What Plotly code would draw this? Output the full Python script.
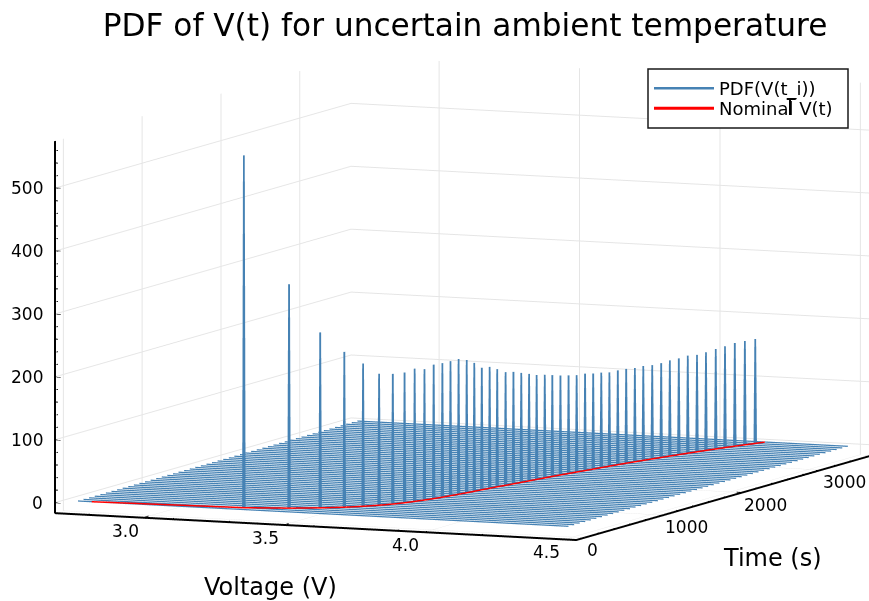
import plotly.graph_objects as go

title = "PDF of V(t) for uncertain ambient temperature"
row_dt = 70.9
n_rows = 51
v_min, v_max = 2.738, 4.485
spike_v = [3.309,3.450,3.541,3.607,3.654,3.691,3.720,3.742,3.758,3.773,3.786,3.797,3.806,3.815,3.824,3.831,
           3.838,3.846,3.853,3.863,3.871,3.879,3.887,3.894,3.903,3.910,3.919,3.928,3.937,3.947,3.956,3.965,
           3.974,3.984,3.994,4.005,4.015,4.027,4.039,4.050,4.062,4.074,4.087,4.099,4.114,4.127,4.142,4.158,4.175]
spike_pdf = [560,356,279,247,227,209,207,207,211,208,213,213,214,215,211,204,
             194,193,187,180,178,174,170,166,164,161,158,156,154,154,152,151,
             149,150,150,149,150,149,150,152,153,155,154,156,159,161,164,165,166]
nominal_v = [2.787] + spike_v + [4.189]
half_width = 0.003

x_range = [2.686, 4.5425]
y_range = [-106, 3650]
z_range = [-16.7, 574.7]
x_ticks = [3.0, 3.5, 4.0, 4.5]
x_tick_text = ["3.0", "3.5", "4.0", "4.5"]
y_ticks = [0, 1000, 2000, 3000]
z_ticks = [0, 100, 200, 300, 400, 500]

times = [row_dt * i for i in range(n_rows)]

row_x, row_y, row_z = [], [], []
spike_x, spike_y, spike_z = [], [], []
for i, t in enumerate(times):
    row_x += [v_min, v_max, None]
    row_y += [t, t, None]
    row_z += [0, 0, None]
    if 1 <= i <= len(spike_v):
        v, p = spike_v[i - 1], spike_pdf[i - 1]
        spike_x += [v - half_width, v, v + half_width, None]
        spike_y += [t, t, t, None]
        spike_z += [0, p, 0, None]

W, H = 869, 601
def px(x): return x / W
def py(y): return 1 - y / H

# axis tick marks (major + minor), laid along the floor / wall like the original
tx, ty, tz = [], [], []
def seg(x0, y0, z0, x1, y1, z1):
    tx.extend([x0, x1, None]); ty.extend([y0, y1, None]); tz.extend([z0, z1, None])
for k in range(0, 16):
    v = 2.8 + 0.1 * k
    seg(v, y_range[0], z_range[0], v, y_range[0] + (70 if abs(v * 2 - round(v * 2)) < 1e-6 else 35), z_range[0])
for k in range(0, 19):
    t = 200 * k
    seg(x_range[1], t, z_range[0], x_range[1] - (0.02 if k % 5 == 0 else 0.01), t, z_range[0])
for k in range(0, 29):
    z = 20 * k
    seg(x_range[0], y_range[0], z, x_range[0] + (0.02 if k % 5 == 0 else 0.01), y_range[0], z)

fig = go.Figure()
fig.add_trace(go.Scatter3d(x=row_x, y=row_y, z=row_z, mode="lines", name="PDF(V(t_i))", legend="legend",
                           line=dict(color="#4682b4", width=2.5), connectgaps=False))
fig.add_trace(go.Scatter3d(x=spike_x, y=spike_y, z=spike_z, mode="lines", showlegend=False,
                           line=dict(color="#4682b4", width=3.5), connectgaps=False))
# small nudge along the line of sight so the red curve stays on top of the rows (screen position unchanged)
nudge_v, nudge_t, nudge_z = 0.0281, -100, 4.2
fig.add_trace(go.Scatter3d(x=[v + nudge_v for v in nominal_v], y=[t + nudge_t for t in times],
                           z=[nudge_z] * len(times), mode="lines", name="Nominal V(t)", legend="legend2",
                           line=dict(color="#ff0000", width=3)))
fig.add_trace(go.Scatter3d(x=tx, y=ty, z=tz, mode="lines", showlegend=False, hoverinfo="skip",
                           line=dict(color="black", width=2)))

axis = dict(showbackground=False, showgrid=True, gridcolor="rgba(0,0,0,0.1)", gridwidth=2,
            zeroline=False, showline=True, linecolor="black", linewidth=4,
            ticks="", showticklabels=False, title=dict(text=""), showspikes=False)

tick_font = dict(family="DejaVu Sans", size=17, color="black")
labels = []
for v, s in zip(x_ticks, x_tick_text):
    labels.append(dict(x=v, y=y_range[0], z=z_range[0], text=s, showarrow=False, xanchor="center", yanchor="middle",
                       xshift=-18, yshift=-13, font=tick_font))
for t in y_ticks:
    labels.append(dict(x=x_range[1], y=t, z=z_range[0], text=str(t), showarrow=False, xanchor="left", yanchor="middle",
                       xshift=0, yshift=-12, font=tick_font))
for z in z_ticks:
    labels.append(dict(x=x_range[0], y=y_range[0], z=z, text=str(z), showarrow=False, xanchor="right", yanchor="middle",
                       xshift=-10, yshift=0, font=tick_font))

legend_common = dict(xanchor="left", yanchor="top", bgcolor="rgba(0,0,0,0)", borderwidth=0,
                     font=dict(family="DejaVu Sans", size=18), itemwidth=60)

fig.update_layout(
    width=W, height=H, paper_bgcolor="white", margin=dict(l=0, r=0, t=0, b=0),
    font=dict(family="DejaVu Sans", color="black"),
    title=dict(text=title, x=px(465), y=py(25), xanchor="center", yanchor="middle",
               font=dict(family="DejaVu Sans", size=31.2)),
    legend=dict(legend_common, x=px(649), y=py(70)),
    legend2=dict(legend_common, x=px(649), y=py(90)),
    shapes=[
        dict(type="rect", xref="paper", yref="paper", x0=px(648), x1=px(848), y0=py(69), y1=py(128),
             fillcolor="white", line=dict(color="#1a1a1a", width=1.5), layer="above"),
        dict(type="line", xref="paper", yref="paper", x0=px(786.7), x1=px(795.7), y0=py(99), y1=py(99),
             line=dict(color="black", width=2), layer="above"),
        dict(type="line", xref="paper", yref="paper", x0=px(790), x1=px(790), y0=py(99), y1=py(115),
             line=dict(color="black", width=2), layer="above"),
    ],
    scene=dict(
        domain=dict(x=[0, 1], y=[0, 1]),
        aspectmode="manual", aspectratio=dict(x=1.8845, y=2.521, z=1.2472),
        xaxis=dict(axis, range=x_range, tickvals=x_ticks),
        yaxis=dict(axis, range=y_range, tickvals=y_ticks),
        zaxis=dict(axis, range=z_range, tickvals=z_ticks),
        camera=dict(projection=dict(type="orthographic"), up=dict(x=0, y=0, z=1),
                    center=dict(x=-0.0891, y=-0.0384, z=-0.0076), eye=dict(x=1.4621, y=-3.6928, z=0.4784)),
        annotations=labels,
    ),
    annotations=[
        dict(text="Voltage (V)", x=px(270), y=py(587), xref="paper", yref="paper", showarrow=False, xanchor="center", yanchor="middle",
             font=dict(family="DejaVu Sans", size=24)),
        dict(text="Time (s)", x=px(772), y=py(558), xref="paper", yref="paper", showarrow=False, xanchor="center", yanchor="middle",
             font=dict(family="DejaVu Sans", size=24)),
    ],
)
fig.write_html("out.html", config={"displayModeBar": False},
               post_script="document.documentElement.style.overflow='hidden';document.body.style.margin='0';")
